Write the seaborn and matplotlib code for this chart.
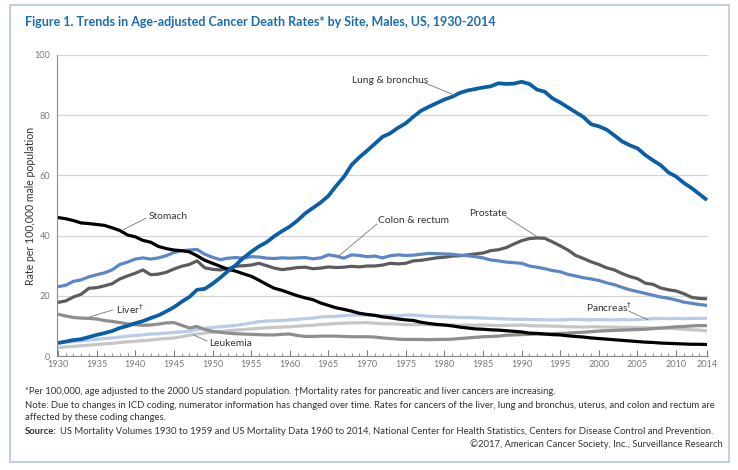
import numpy as np
import pandas as pd
import matplotlib
matplotlib.use("Agg")
import matplotlib.pyplot as plt
from matplotlib.patches import Rectangle
from matplotlib.ticker import FixedLocator, MultipleLocator
import seaborn as sns

years = list(range(1930, 2015))

lung = [4.3, 4.8, 5.3, 5.6, 6.3, 7.0, 7.6, 8.3, 9.3, 10.0,
        10.9, 11.6, 12.6, 13.5, 14.8, 16.2, 18.0, 19.6, 22.0, 22.3,
        24.0, 26.0, 28.2, 30.2, 32.6, 34.6, 36.4, 37.8, 39.8, 41.5,
        43.0, 45.0, 47.4, 49.2, 51.0, 53.2, 56.5, 59.5, 63.5, 66.0,
        68.2, 70.5, 72.8, 74.0, 75.8, 77.3, 79.5, 81.5, 82.8, 84.0,
        85.2, 86.1, 87.4, 88.2, 88.7, 89.2, 89.6, 90.6, 90.4, 90.5,
        91.1, 90.4, 88.5, 87.8, 85.6, 84.2, 82.6, 81.0, 79.4, 77.0,
        76.3, 75.2, 73.3, 71.3, 70.0, 69.0, 66.8, 65.0, 63.4, 61.0,
        59.6, 57.5, 55.8, 53.8, 51.8]

stomach = [46.0, 45.6, 45.0, 44.2, 44.0, 43.7, 43.4, 42.6, 41.7, 40.2,
           39.6, 38.4, 37.8, 36.4, 35.7, 35.2, 35.0, 34.6, 33.3, 31.8,
           30.8, 29.8, 28.8, 28.2, 27.3, 26.5, 25.2, 23.8, 22.5, 21.8,
           20.9, 20.0, 19.3, 18.7, 17.6, 16.8, 16.0, 15.5, 14.9, 14.2,
           13.8, 13.5, 13.0, 12.7, 12.3, 12.0, 11.8, 11.2, 10.8, 10.5,
           10.3, 10.0, 9.6, 9.3, 9.0, 8.9, 8.7, 8.6, 8.4, 8.2,
           8.0, 7.6, 7.5, 7.3, 7.1, 7.0, 6.7, 6.5, 6.3, 6.0,
           5.8, 5.6, 5.4, 5.2, 5.0, 4.8, 4.6, 4.5, 4.3, 4.2,
           4.1, 4.0, 3.9, 3.9, 3.8]

colon = [23.0, 23.5, 24.8, 25.3, 26.3, 27.0, 27.6, 28.6, 30.4, 31.2,
         32.2, 32.6, 32.2, 32.6, 33.3, 34.4, 35.0, 35.2, 35.4, 33.8,
         32.8, 32.0, 32.5, 32.7, 32.5, 33.0, 32.9, 32.5, 32.4, 32.6,
         32.5, 32.6, 32.7, 32.3, 32.6, 33.6, 33.2, 32.5, 33.6, 33.4,
         33.0, 33.2, 32.6, 33.3, 33.6, 33.4, 33.5, 33.8, 34.1, 34.0,
         33.9, 33.8, 33.5, 33.3, 33.0, 32.6, 31.9, 31.6, 31.2, 31.0,
         30.8, 29.9, 29.5, 29.0, 28.4, 28.0, 27.1, 26.6, 26.0, 25.6,
         25.1, 24.3, 23.7, 22.8, 22.0, 21.4, 20.8, 20.2, 19.6, 19.2,
         18.6, 17.9, 17.5, 17.1, 16.8]

prostate = [17.8, 18.3, 19.6, 20.5, 22.5, 22.7, 23.3, 24.0, 25.6, 26.6,
            27.5, 28.6, 27.0, 27.2, 27.8, 28.9, 29.8, 30.4, 31.6, 29.3,
            28.8, 28.6, 29.0, 29.8, 30.0, 30.2, 30.8, 30.0, 29.2, 28.7,
            29.0, 29.4, 29.5, 29.0, 29.2, 29.6, 29.4, 29.5, 29.8, 29.6,
            29.9, 29.9, 30.2, 30.8, 30.6, 30.8, 31.6, 31.8, 32.2, 32.6,
            32.8, 33.2, 33.3, 33.6, 33.9, 34.2, 35.0, 35.3, 36.0, 37.2,
            38.3, 39.0, 39.2, 39.1, 37.9, 36.6, 35.2, 33.4, 32.4, 31.3,
            30.4, 29.3, 28.6, 27.4, 26.4, 25.7, 24.2, 23.8, 22.6, 22.0,
            21.6, 20.7, 19.5, 19.1, 19.0]

liver = [13.9, 13.3, 12.8, 12.6, 12.5, 12.3, 11.8, 11.5, 11.1, 10.7,
         10.4, 10.2, 10.3, 10.6, 11.0, 11.1, 10.2, 9.3, 9.8, 8.8,
         8.2, 7.9, 7.6, 7.4, 7.3, 7.2, 7.1, 7.0, 7.0, 7.2,
         7.3, 6.8, 6.5, 6.5, 6.6, 6.6, 6.6, 6.5, 6.4, 6.4,
         6.4, 6.3, 6.0, 5.8, 5.6, 5.5, 5.5, 5.5, 5.4, 5.5,
         5.5, 5.6, 5.8, 6.0, 6.2, 6.4, 6.5, 6.6, 6.9, 7.0,
         7.1, 7.2, 7.3, 7.3, 7.4, 7.5, 7.6, 7.8, 7.9, 8.1,
         8.3, 8.4, 8.5, 8.6, 8.7, 8.8, 8.9, 9.1, 9.3, 9.5,
         9.7, 9.8, 10.0, 10.1, 10.1]

leukemia = [2.8, 3.0, 3.2, 3.4, 3.6, 3.8, 4.0, 4.2, 4.5, 4.7,
            4.9, 5.1, 5.3, 5.6, 5.8, 6.0, 6.4, 6.9, 7.3, 7.6,
            7.9, 8.1, 8.4, 8.6, 8.8, 9.0, 9.2, 9.4, 9.5, 9.6,
            9.7, 9.9, 10.1, 10.2, 10.5, 10.6, 10.8, 10.9, 11.0, 11.0,
            11.1, 10.9, 10.7, 10.7, 10.6, 10.4, 10.4, 10.5, 10.4, 10.3,
            10.3, 10.3, 10.2, 10.3, 10.2, 10.3, 10.2, 10.1, 10.2, 10.2,
            10.3, 10.1, 10.0, 10.0, 9.9, 9.9, 9.7, 9.7, 9.6, 9.7,
            9.7, 9.6, 9.6, 9.5, 9.5, 9.4, 9.4, 9.3, 9.2, 9.2,
            9.1, 8.9, 8.7, 8.6, 8.4]

pancreas = [4.4, 4.6, 4.8, 5.0, 5.3, 5.5, 5.8, 6.0, 6.3, 6.6,
            6.8, 7.0, 7.3, 7.4, 7.6, 7.8, 8.0, 8.2, 8.8, 9.2,
            9.5, 9.7, 9.9, 10.2, 10.5, 11.0, 11.4, 11.6, 11.7, 11.8,
            12.0, 12.2, 12.4, 12.6, 13.0, 13.1, 13.2, 13.4, 13.6, 13.6,
            13.6, 13.5, 13.4, 13.4, 13.3, 13.6, 13.6, 13.4, 13.2, 13.1,
            13.0, 12.9, 12.8, 12.8, 12.7, 12.6, 12.5, 12.4, 12.3, 12.2,
            12.2, 12.1, 12.1, 12.0, 12.0, 12.0, 12.1, 12.2, 12.1, 12.0,
            12.1, 12.0, 12.0, 12.1, 12.0, 12.1, 12.3, 12.4, 12.5, 12.4,
            12.5, 12.4, 12.5, 12.5, 12.5]

x_tick_labels = [str(y) for y in range(1930, 2011, 5)] + ["2014"]
y_tick_values = [0, 20, 40, 60, 80, 100]

series = {
    "Leukemia": leukemia,
    "Pancreas": pancreas,
    "Liver": liver,
    "Prostate": prostate,
    "Colon & rectum": colon,
    "Stomach": stomach,
    "Lung & bronchus": lung,
}
colors = {
    "Leukemia": "#c6c6c6",
    "Pancreas": "#b8cbe8",
    "Liver": "#8e8e8e",
    "Prostate": "#5c5c5c",
    "Colon & rectum": "#5b87c7",
    "Stomach": "#000000",
    "Lung & bronchus": "#0a5ea8",
}
widths = {k: 2.3 for k in series}
widths["Lung & bronchus"] = 2.7

df = pd.DataFrame([
    {"year": y, "rate": v, "site": s}
    for s, vals in series.items() for y, v in zip(years, vals)
])

sns.set_theme(style="white")
plt.rcParams["font.family"] = ["Lato", "DejaVu Sans"]

fig = plt.figure(figsize=(7.38, 4.70), dpi=100)
W, H = 738, 470
ax = fig.add_axes([57.2 / W, (H - 356) / H, (707.8 - 57.2) / W, (356 - 55) / H])

for s in series:
    sns.lineplot(data=df[df.site == s], x="year", y="rate", ax=ax,
                 color=colors[s], linewidth=widths[s], legend=False,
                 solid_capstyle="butt", solid_joinstyle="round")

ax.set_xlim(1929.9, 2014.1)
ax.set_ylim(0, 100)
ax.set_xlabel("")
ax.set_ylabel("Rate per 100,000 male population", fontsize=7.6, color="#333333", labelpad=-1)

xt = [int(t) for t in x_tick_labels]
ax.xaxis.set_major_locator(FixedLocator(xt))
ax.set_xticklabels(x_tick_labels)
ax.xaxis.set_minor_locator(MultipleLocator(1))
ax.set_yticks(y_tick_values)
ax.set_yticklabels([str(v) for v in y_tick_values])

for lab in ax.get_xticklabels() + ax.get_yticklabels():
    lab.set_fontsize(6.6)
    lab.set_color("#7a7a7a")

ax.tick_params(axis="x", which="major", direction="in", length=4.5, width=0.7,
               color="#777777", pad=3, bottom=True)
ax.tick_params(axis="x", which="minor", direction="in", length=2.2, width=0.6,
               color="#777777", bottom=True)
ax.tick_params(axis="y", which="both", length=0, pad=5)

ax.grid(axis="y", color="#d4d4d4", linewidth=0.9)
ax.grid(axis="x", visible=False)
ax.set_axisbelow(True)
for sp in ["top", "right"]:
    ax.spines[sp].set_visible(False)
for sp in ["left", "bottom"]:
    ax.spines[sp].set_color("#8a8a8a")
    ax.spines[sp].set_linewidth(0.8)

ann_kw = dict(fontsize=7.4, color="#333333", va="center")
line_kw = dict(arrowstyle="-", color="#777777", lw=0.6, shrinkA=0, shrinkB=0)

def label(text, txy, p0, p1, ha="left"):
    ax.text(txy[0], txy[1], text, ha=ha, **ann_kw)
    ax.annotate("", xy=p1, xytext=p0, arrowprops=line_kw)

label("Lung & bronchus", (1968.0, 91.4), (1977.2, 91.0), (1981.3, 86.7))
label("Stomach", (1941.8, 46.2), (1941.4, 45.8), (1938.4, 41.9))
label(r"Liver$^{\dagger}$", (1937.5, 15.6), (1937.1, 15.3), (1934.1, 13.0))
label("Leukemia", (1949.5, 4.3), (1949.3, 5.0), (1947.5, 7.0))
label("Colon & rectum", (1971.4, 44.9), (1971.3, 43.9), (1966.2, 32.9))
label("Prostate", (1983.2, 47.2), (1988.0, 46.2), (1992.1, 39.5))
label(r"Pancreas$^{\dagger}$", (1998.3, 16.3), (2003.8, 15.0), (2006.4, 12.0))

# frame
fig.patches.append(Rectangle((10 / W, (H - 462) / H), (729 - 10) / W, (462 - 5) / H,
                             transform=fig.transFigure, fill=False,
                             edgecolor="#b6c7e2", linewidth=1.2))

renderer = fig.canvas.get_renderer()

def fit_width(txt, target_px):
    w = txt.get_window_extent(renderer=renderer).width
    txt.set_fontsize(txt.get_fontsize() * target_px / w)

title = fig.text(25 / W, 1 - 22 / H,
                 "Figure 1. Trends in Age-adjusted Cancer Death Rates* by Site, Males, US, 1930-2014",
                 fontsize=9.0, fontweight="bold", color="#1b6db3", va="center")
fit_width(title, 472)

foot_kw = dict(fontsize=6.6, color="#333333", va="center")
f2 = fig.text(25 / W, 1 - 406 / H,
              "Note: Due to changes in ICD coding, numerator information has changed over time. Rates for cancers of the liver, lung and bronchus, uterus, and colon and rectum are",
              **foot_kw)
fit_width(f2, 690)
fs = f2.get_fontsize()
foot_kw["fontsize"] = fs
fig.text(25 / W, 1 - 392 / H,
         "*Per 100,000, age adjusted to the 2000 US standard population. \u2020Mortality rates for pancreatic and liver cancers are increasing.",
         **foot_kw)
fig.text(25 / W, 1 - 418 / H, "affected by these coding changes.", **foot_kw)
t = fig.text(25 / W, 1 - 431 / H, "Source:", fontweight="bold", **foot_kw)
bb = t.get_window_extent(renderer=renderer)
fig.text((bb.x1 + 3) / W, 1 - 431 / H,
         "US Mortality Volumes 1930 to 1959 and US Mortality Data 1960 to 2014, National Center for Health Statistics, Centers for Disease Control and Prevention.",
         **foot_kw)
fig.text(723 / W, 1 - 444 / H, "\u00a92017, American Cancer Society, Inc., Surveillance Research",
         ha="right", **foot_kw)

fig.savefig("out.png", dpi=100)
